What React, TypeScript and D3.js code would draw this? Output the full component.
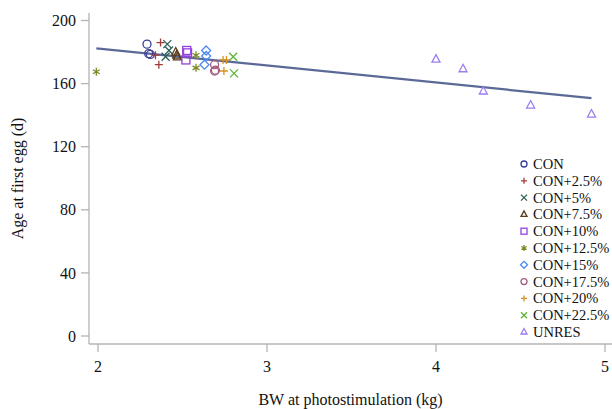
import React from 'react';
import * as d3 from 'd3';

// groups in legend order
const groups = ['CON', 'CON+2.5%', 'CON+5%', 'CON+7.5%', 'CON+10%', 'CON+12.5%', 'CON+15%', 'CON+17.5%', 'CON+20%', 'CON+22.5%', 'UNRES'];
const shapes = ['circle', 'plus', 'x', 'triangle', 'square', 'asterisk', 'diamond', 'circle', 'plus', 'x', 'triangle'];
const colors = ['#3c3f95', '#a33a3a', '#2b5f55', '#5a3b1c', '#9440e0', '#7b8a25', '#4b8bf5', '#a45a82', '#d9901e', '#5cb534', '#9b7ef0'];

// BW at photostimulation (kg) and age at first egg (d), per group
const bw = [
  [2.29, 2.30, 2.31],
  [2.37, 2.34, 2.36],
  [2.41, 2.42, 2.40],
  [2.46, 2.465, 2.47],
  [2.525, 2.53, 2.52],
  [1.99, 2.58, 2.58],
  [2.64, 2.64, 2.63],
  [2.69, 2.69, 2.695],
  [2.74, 2.76, 2.745],
  [2.80, 2.805],
  [4.0, 4.16, 4.28, 4.56, 4.92],
];
const age = [
  [185, 179, 178.5],
  [186, 178, 172],
  [185, 181, 177],
  [180, 178, 177],
  [181, 179.5, 175],
  [167.5, 178, 170],
  [181, 177.5, 172],
  [172, 168, 168.5],
  [175, 175, 168],
  [177, 166.5],
  [175.5, 169.4, 155.3, 146.4, 140.7],
];

// fitted line: age = a + b * bw
const fitA = 203.8;
const fitB = -10.78;

const xTicks = [2, 3, 4, 5];
const yTicks = [0, 40, 80, 120, 160, 200];

const font = '"Liberation Serif", "Times New Roman", serif';

function marker(shape: string, color: string, cx: number, cy: number, key: string, r = 4) {
  const common = { fill: 'none', stroke: color, strokeWidth: 1.3 };
  switch (shape) {
    case 'circle':
      return <circle key={key} cx={cx} cy={cy} r={r} {...common} />;
    case 'square':
      return <rect key={key} x={cx - r} y={cy - r} width={2 * r} height={2 * r} {...common} />;
    case 'triangle':
      return <path key={key} d={`M${cx},${cy - r - 0.5}L${cx + r},${cy + r - 1}L${cx - r},${cy + r - 1}Z`} {...common} />;
    case 'diamond':
      return <path key={key} d={`M${cx},${cy - r - 0.5}L${cx + r + 0.5},${cy}L${cx},${cy + r + 0.5}L${cx - r - 0.5},${cy}Z`} {...common} />;
    case 'plus':
      return <path key={key} d={`M${cx - r},${cy}H${cx + r}M${cx},${cy - r}V${cy + r}`} {...common} />;
    case 'x':
      return <path key={key} d={`M${cx - r},${cy - r}L${cx + r},${cy + r}M${cx - r},${cy + r}L${cx + r},${cy - r}`} {...common} />;
    case 'asterisk': {
      const d = r * 0.87;
      return <path key={key} d={`M${cx},${cy - r}V${cy + r}M${cx - d},${cy - r / 2}L${cx + d},${cy + r / 2}M${cx - d},${cy + r / 2}L${cx + d},${cy - r / 2}`} {...common} />;
    }
  }
  return null;
}

export default function App() {
  const width = 612;
  const height = 409;
  const frame = { left: 89, top: 13, bottom: 344, right: 612 };

  const x = d3.scaleLinear().domain([2, 5]).range([98, 605]);
  const y = d3.scaleLinear().domain([0, 200]).range([336, 20.5]);

  const allBw = bw.flat();
  const xMin = d3.min(allBw) as number;
  const xMax = d3.max(allBw) as number;
  const fitLine = d3.line<number>().x(d => x(d)).y(d => y(fitA + fitB * d));

  const axisColor = '#b4b4b4';

  return (
    <svg width={width} height={height} style={{ position: 'absolute', left: 0, top: 0, background: '#fff' }}>
      <g fontFamily={font} fill="#111">
        {/* y axis */}
        <line x1={frame.left} x2={frame.left} y1={frame.top} y2={frame.bottom} stroke={axisColor} strokeWidth={1.3} />
        {yTicks.map(t => (
          <g key={t}>
            <line x1={frame.left - 8} x2={frame.left} y1={y(t)} y2={y(t)} stroke={axisColor} strokeWidth={1.3} />
            <text x={frame.left - 13} y={y(t)} dy="0.35em" textAnchor="end" fontSize={16}>{t}</text>
          </g>
        ))}
        <text transform={`translate(23,${(frame.top + frame.bottom) / 2}) rotate(-90)`} textAnchor="middle" fontSize={16}>
          Age at first egg (d)
        </text>

        {/* x axis */}
        <line x1={frame.left} x2={frame.right} y1={frame.bottom} y2={frame.bottom} stroke={axisColor} strokeWidth={1.3} />
        {xTicks.map(t => (
          <g key={t}>
            <line x1={x(t)} x2={x(t)} y1={frame.bottom} y2={frame.bottom + 8} stroke={axisColor} strokeWidth={1.3} />
            <text x={x(t)} y={frame.bottom + 28} textAnchor="middle" fontSize={16}>{t}</text>
          </g>
        ))}
        <text x={(frame.left + frame.right) / 2 + 0} y={405} textAnchor="middle" fontSize={16}>
          BW at photostimulation (kg)
        </text>

        {/* fitted line */}
        <path d={fitLine([xMin, xMax]) || ''} fill="none" stroke="#5b6996" strokeWidth={2.2} />

        {/* points */}
        {groups.map((g, gi) =>
          bw[gi].map((v, i) => marker(shapes[gi], colors[gi], x(v), y(age[gi][i]), `${g}-${i}`))
        )}

        {/* legend */}
        {groups.map((g, gi) => {
          const ly = 164 + gi * 16.8;
          return (
            <g key={g}>
              {marker(shapes[gi], colors[gi], 524, ly, `lg-${g}`, 3)}
              <text x={533} y={ly} dy="0.35em" fontSize={14.5}>{g}</text>
            </g>
          );
        })}
      </g>
    </svg>
  );
}
